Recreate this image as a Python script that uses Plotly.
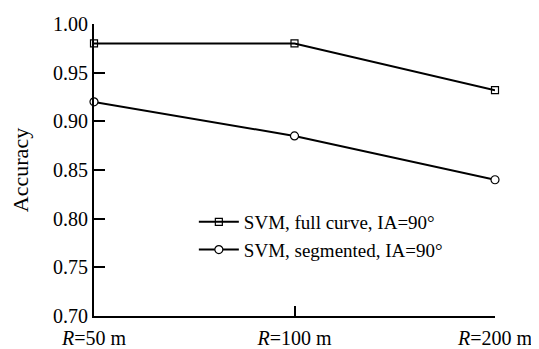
import plotly.graph_objects as go

categories = ["<i>R</i>=50 m", "<i>R</i>=100 m", "<i>R</i>=200 m"]
full_curve = [0.98, 0.98, 0.932]
segmented = [0.92, 0.885, 0.84]
y_ticks = [0.70, 0.75, 0.80, 0.85, 0.90, 0.95, 1.00]
names = ["SVM, full curve, IA=90°", "SVM, segmented, IA=90°"]

FONT = "Liberation Serif, Times New Roman, serif"

fig = go.Figure()
fig.add_trace(go.Scatter(
    x=[0, 1, 2], y=full_curve, name=names[0], mode="lines+markers",
    line=dict(color="black", width=2),
    marker=dict(symbol="square-open", size=7, color="black", line=dict(width=1.2)),
    cliponaxis=False,
))
fig.add_trace(go.Scatter(
    x=[0, 1, 2], y=segmented, name=names[1], mode="lines+markers",
    line=dict(color="black", width=2),
    marker=dict(symbol="circle", size=8, color="white", line=dict(width=1.2, color="black")),
    cliponaxis=False,
))

# page body has an 8px margin, so the figure is sized to fit the 539x349 window
fig.update_layout(
    width=531, height=341,
    margin=dict(l=86, r=44, t=16, b=33),
    paper_bgcolor="white", plot_bgcolor="white",
    font=dict(family=FONT, size=18, color="black"),
    showlegend=True,
    legend=dict(x=0.249, y=0.387, xanchor="left", yanchor="top",
                bgcolor="rgba(0,0,0,0)", font=dict(size=19, family=FONT),
                itemwidth=40, tracegroupgap=0),
    xaxis=dict(
        range=[0, 2], tickvals=[0, 1, 2], ticktext=categories,
        showline=True, linecolor="black", linewidth=2,
        ticks="inside", ticklen=10, tickwidth=1.5, tickcolor="black",
        showgrid=False, zeroline=False, ticklabelstandoff=3, automargin=False,
        tickfont=dict(size=20, family=FONT),
    ),
    yaxis=dict(
        range=[0.70, 1.00], tickvals=y_ticks, tickformat=".2f",
        showline=True, linecolor="black", linewidth=2,
        ticks="inside", ticklen=11, tickwidth=1.5, tickcolor="black",
        showgrid=False, zeroline=False, automargin=False,
        tickfont=dict(size=20, family=FONT),
        title=dict(text="Accuracy", font=dict(size=22, family=FONT), standoff=19),
    ),
)

fig.write_html("out.html")
